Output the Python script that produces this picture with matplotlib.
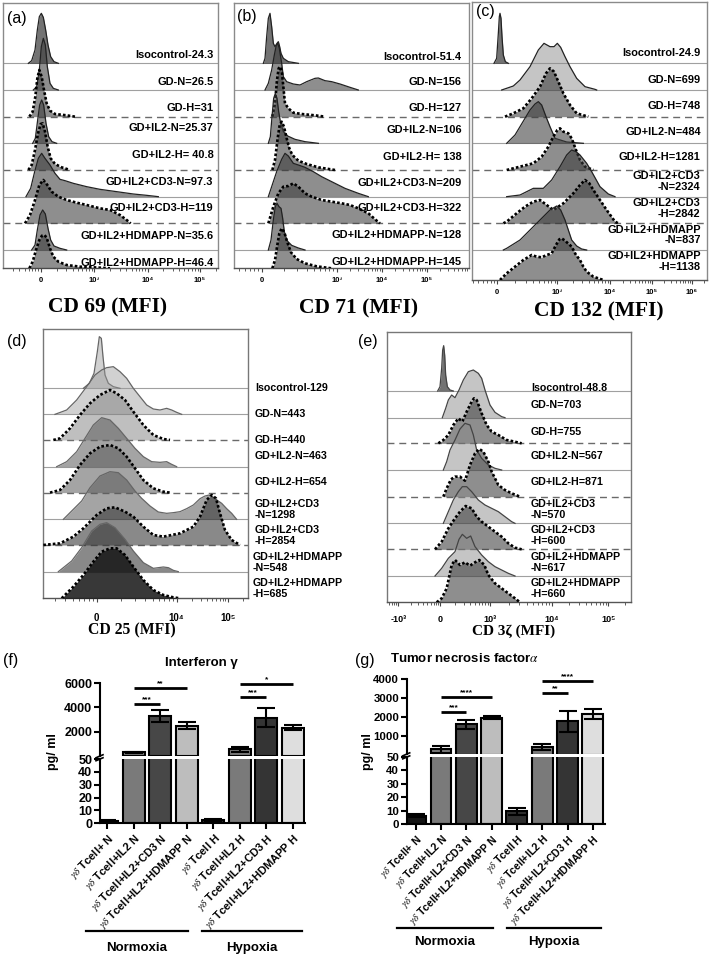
import matplotlib
matplotlib.use('Agg')
import matplotlib.pyplot as plt
from matplotlib.lines import Line2D
import numpy as np

plt.rcParams['font.family'] = ['Liberation Sans', 'DejaVu Sans']
plt.rcParams['mathtext.fontset'] = 'stix'

W, H = 709, 958
fig = plt.figure(figsize=(W / 100, H / 100), dpi=100)

# ======================= DATA =======================
# Flow-cytometry histograms: (channel, count) points
cd69_labels = ['Isocontrol-24.3', 'GD-N=26.5', 'GD-H=31', 'GD+IL2-N=25.37', 'GD+IL2-H= 40.8',
               'GD+IL2+CD3-N=97.3', 'GD+IL2+CD3-H=119', 'GD+IL2+HDMAPP-N=35.6', 'GD+IL2+HDMAPP-H=46.4']
cd69_hist = [
    [(85, 0), (95, 8), (105, 40), (112, 100), (118, 140), (124, 150), (130, 138), (137, 100), (144, 55), (152, 20), (162, 5), (175, 0)],
    [(100, 0), (110, 10), (118, 60), (124, 130), (130, 155), (136, 135), (142, 70), (150, 20), (160, 5), (175, 0)],
    [(88, 0), (98, 15), (106, 60), (112, 115), (118, 140), (125, 120), (132, 80), (140, 40), (150, 18), (165, 8), (200, 4), (225, 0)],
    [(98, 0), (106, 15), (113, 70), (119, 115), (125, 130), (131, 115), (138, 60), (146, 20), (156, 5), (170, 0)],
    [(85, 0), (95, 15), (105, 60), (114, 110), (122, 138), (128, 140), (135, 115), (143, 70), (152, 35), (165, 18), (185, 8), (210, 0)],
    [(78, 0), (92, 25), (104, 75), (115, 115), (125, 130), (135, 115), (150, 95), (165, 70), (180, 52), (195, 48), (220, 40), (260, 30), (300, 22), (350, 15), (400, 8), (440, 4), (475, 0)],
    [(75, 0), (90, 25), (105, 70), (118, 115), (130, 130), (142, 115), (155, 95), (175, 80), (200, 70), (230, 62), (260, 55), (300, 45), (330, 40), (360, 25), (380, 10), (392, 0)],
    [(95, 0), (105, 15), (112, 60), (120, 105), (128, 120), (136, 108), (144, 65), (152, 30), (162, 12), (180, 5), (200, 0)],
    [(88, 0), (98, 20), (108, 55), (118, 85), (126, 98), (133, 100), (140, 92), (150, 60), (160, 35), (175, 20), (200, 10), (240, 5), (300, 2), (330, 0)],
]

cd71_labels = ['Isocontrol-51.4', 'GD-N=156', 'GD-H=127', 'GD+IL2-N=106', 'GD+IL2-H= 138',
               'GD+IL2+CD3-N=209', 'GD+IL2+CD3-H=322', 'GD+IL2+HDMAPP-N=128', 'GD+IL2+HDMAPP-H=145']
cd71_hist = [
    [(85, 0), (90, 15), (95, 80), (100, 135), (105, 150), (110, 110), (115, 60), (120, 50), (126, 60), (130, 65), (134, 50), (138, 30), (145, 15), (160, 5), (190, 0)],
    [(90, 0), (100, 20), (110, 60), (118, 105), (124, 135), (128, 140), (133, 125), (140, 80), (145, 40), (155, 25), (175, 18), (195, 15), (215, 25), (240, 35), (250, 36), (270, 28), (290, 25), (315, 18), (345, 8), (370, 0)],
    [(112, 0), (120, 40), (126, 110), (131, 145), (136, 150), (141, 130), (146, 80), (150, 40), (160, 25), (175, 12), (200, 8), (240, 4), (270, 0)],
    [(100, 0), (106, 20), (111, 80), (116, 135), (121, 150), (126, 135), (131, 95), (137, 60), (145, 35), (158, 22), (180, 12), (210, 5), (250, 0)],
    [(112, 0), (120, 30), (128, 95), (134, 135), (140, 145), (147, 130), (155, 95), (163, 65), (172, 45), (190, 28), (215, 18), (250, 8), (300, 0)],
    [(100, 0), (110, 30), (125, 75), (140, 112), (150, 130), (160, 122), (175, 100), (190, 95), (210, 88), (235, 75), (260, 60), (300, 40), (330, 25), (370, 10), (400, 0)],
    [(100, 0), (115, 50), (130, 90), (145, 110), (160, 112), (175, 120), (190, 110), (210, 90), (230, 80), (260, 70), (290, 65), (320, 60), (345, 55), (370, 45), (400, 30), (425, 8), (435, 0)],
    [(100, 0), (108, 30), (115, 90), (121, 130), (126, 140), (132, 130), (138, 125), (143, 95), (148, 55), (156, 28), (170, 14), (190, 6), (210, 0)],
    [(112, 0), (120, 25), (127, 70), (133, 105), (140, 120), (148, 108), (157, 78), (168, 48), (185, 28), (210, 15), (245, 6), (290, 0)],
]

cd132_labels = ['Isocontrol-24.9', 'GD-N=699', 'GD-H=748', 'GD+IL2-N=484', 'GD+IL2-H=1281',
                'GD+IL2+CD3\n-N=2324', 'GD+IL2+CD3\n-H=2842', 'GD+IL2+HDMAPP\n-N=837', 'GD+IL2+HDMAPP\n-H=1138']
cd132_hist = [
    [(72, 0), (80, 15), (85, 90), (88, 140), (90, 150), (93, 135), (96, 80), (100, 25), (106, 5), (115, 0)],
    [(95, 0), (130, 12), (150, 30), (180, 70), (205, 120), (222, 140), (240, 130), (252, 130), (262, 140), (272, 128), (285, 100), (300, 70), (320, 35), (345, 10), (375, 2), (380, 0)],
    [(105, 0), (130, 10), (160, 25), (185, 55), (210, 90), (228, 130), (240, 145), (252, 135), (265, 105), (280, 70), (300, 35), (320, 10), (355, 0)],
    [(110, 0), (120, 10), (135, 25), (150, 50), (165, 75), (180, 100), (195, 118), (205, 125), (215, 115), (228, 80), (240, 50), (255, 15), (290, 4), (340, 0)],
    [(110, 0), (150, 10), (190, 20), (215, 40), (235, 70), (250, 100), (262, 120), (270, 125), (280, 115), (295, 110), (305, 95), (318, 60), (330, 30), (345, 10), (370, 0)],
    [(110, 0), (150, 5), (190, 25), (220, 25), (245, 50), (270, 90), (290, 125), (305, 140), (318, 135), (330, 125), (350, 100), (365, 75), (390, 30), (415, 8), (435, 0)],
    [(100, 0), (110, 5), (140, 30), (165, 50), (190, 65), (210, 70), (230, 55), (250, 40), (280, 60), (310, 90), (330, 115), (345, 130), (358, 120), (370, 100), (390, 70), (410, 40), (435, 5), (445, 0)],
    [(100, 0), (110, 5), (150, 30), (170, 50), (190, 70), (215, 95), (240, 120), (260, 132), (272, 120), (285, 90), (295, 60), (305, 30), (320, 12), (335, 3), (350, 0)],
    [(90, 0), (110, 20), (135, 40), (160, 60), (185, 75), (200, 70), (215, 68), (230, 75), (245, 80), (258, 105), (268, 122), (275, 125), (285, 118), (305, 100), (318, 75), (330, 60), (340, 40), (350, 25), (370, 10), (400, 0)],
]

cd25_labels = ['Isocontrol-129', 'GD-N=443', 'GD-H=440', 'GD+IL2-N=463', 'GD+IL2-H=654',
               'GD+IL2+CD3\n-N=1298', 'GD+IL2+CD3\n-H=2854', 'GD+IL2+HDMAPP\n-N=548', 'GD+IL2+HDMAPP\n-H=685']
cd25_hist = [
    [(250, 0), (268, 15), (282, 45), (292, 110), (298, 155), (304, 150), (309, 95), (315, 40), (325, 15), (340, 5), (360, 0)],
    [(165, 0), (200, 13), (230, 43), (260, 83), (285, 118), (305, 133), (320, 140), (340, 143), (360, 128), (380, 108), (400, 78), (420, 53), (440, 28), (460, 16), (480, 13), (500, 18), (515, 13), (530, 6), (545, 0)],
    [(160, 0), (180, 5), (210, 35), (240, 75), (270, 110), (300, 135), (330, 150), (350, 140), (375, 120), (400, 85), (430, 45), (460, 15), (490, 3), (510, 0)],
    [(170, 0), (200, 15), (230, 45), (255, 85), (280, 125), (305, 147), (330, 140), (355, 115), (380, 85), (405, 55), (430, 30), (455, 15), (480, 13), (500, 15), (515, 7), (530, 0)],
    [(150, 0), (180, 8), (210, 38), (240, 83), (270, 118), (300, 138), (330, 143), (355, 133), (380, 108), (405, 73), (430, 38), (460, 13), (490, 3), (510, 0)],
    [(190, 0), (215, 25), (245, 55), (270, 95), (300, 130), (330, 143), (355, 140), (380, 118), (405, 85), (425, 63), (450, 40), (475, 22), (500, 18), (520, 20), (540, 23), (560, 32), (580, 43), (600, 62), (615, 70), (628, 73), (645, 62), (665, 48), (680, 32), (695, 18), (710, 0)],
    [(130, 0), (180, 5), (220, 25), (250, 50), (290, 90), (320, 110), (345, 113), (375, 100), (400, 85), (430, 55), (460, 30), (490, 25), (540, 35), (580, 55), (600, 85), (620, 135), (635, 150), (648, 140), (660, 95), (675, 45), (695, 15), (720, 0)],
    [(175, 0), (215, 32), (245, 72), (275, 122), (300, 142), (320, 147), (345, 132), (375, 97), (400, 62), (430, 27), (460, 10), (490, 14), (505, 12), (520, 4), (535, 0)],
    [(185, 0), (220, 35), (250, 70), (280, 110), (305, 140), (330, 150), (350, 150), (375, 130), (400, 95), (430, 55), (460, 25), (490, 10), (520, 3), (540, 0)],
]

cd3z_labels = ['Isocontrol-48.8', 'GD-N=703', 'GD-H=755', 'GD+IL2-N=567', 'GD+IL2-H=871',
               'GD+IL2+CD3\n-N=570', 'GD+IL2+CD3\n-H=600', 'GD+IL2+HDMAPP\n-N=617', 'GD+IL2+HDMAPP\n-H=660']
cd3z_hist = [
    [(248, 0), (255, 13), (260, 68), (263, 123), (266, 136), (269, 108), (272, 48), (277, 13), (285, 3), (295, 0)],
    [(262, 0), (272, 28), (280, 53), (290, 68), (300, 60), (312, 83), (325, 113), (340, 138), (355, 143), (370, 133), (380, 118), (390, 83), (405, 38), (420, 16), (440, 3), (450, 0)],
    [(250, 0), (265, 10), (280, 25), (295, 55), (310, 75), (322, 65), (335, 95), (350, 125), (357, 135), (365, 130), (380, 90), (395, 55), (410, 35), (430, 25), (455, 10), (470, 7), (500, 0)],
    [(265, 0), (275, 25), (285, 60), (300, 90), (315, 123), (330, 140), (345, 135), (355, 105), (365, 60), (380, 35), (400, 15), (420, 5), (440, 0)],
    [(265, 0), (275, 25), (288, 52), (300, 60), (315, 60), (330, 48), (345, 95), (360, 130), (373, 143), (385, 135), (400, 105), (410, 75), (430, 35), (450, 20), (470, 10), (495, 0)],
    [(265, 0), (280, 35), (295, 70), (310, 95), (322, 110), (335, 110), (350, 95), (370, 70), (390, 55), (410, 45), (430, 35), (450, 20), (470, 5), (480, 0)],
    [(240, 0), (260, 23), (280, 63), (300, 93), (315, 113), (332, 130), (350, 123), (365, 98), (380, 83), (400, 68), (420, 53), (440, 38), (460, 18), (480, 5), (500, 0)],
    [(240, 0), (260, 23), (280, 53), (300, 73), (312, 110), (322, 125), (335, 113), (347, 120), (360, 88), (380, 63), (400, 43), (420, 28), (440, 18), (460, 8), (480, 0)],
    [(245, 0), (260, 12), (275, 42), (290, 112), (300, 127), (315, 112), (330, 120), (345, 110), (360, 120), (373, 127), (388, 112), (400, 82), (420, 57), (440, 42), (460, 27), (480, 12), (495, 0)],
]

# x-axis tick labels of the flow panels
cd69_ticks = ['0', '10³', '10⁴', '10⁵']
cd71_ticks = ['0', '10³', '10⁴', '10⁵']
cd132_ticks = ['0', '10³', '10⁴', '10⁵', '10⁶']
cd25_ticks = ['0', '10⁴', '10⁵']
cd3z_ticks = ['-10³', '0', '10³', '10⁴', '10⁵']

# Cytokine bar charts
bar_labels = [r'$\gamma\delta$ Tcell+ N', r'$\gamma\delta$ Tcell+IL2 N', r'$\gamma\delta$ Tcell+IL2+CD3 N',
              r'$\gamma\delta$ Tcell+IL2+HDMAPP N', r'$\gamma\delta$ Tcell H', r'$\gamma\delta$ Tcell+IL2 H',
              r'$\gamma\delta$ Tcell+IL2+CD3 H', r'$\gamma\delta$ Tcell+IL2+HDMAPP H']
ifn_values = [2.1, 300, 3290, 2490, 2.5, 550, 3150, 2330]
ifn_err = [0.4, 15, 500, 270, 0.5, 200, 800, 220]
ifn_sig = [(1, 2, '***', 4250), (1, 3, '**', 5560), (5, 6, '***', 4880), (5, 7, '*', 5890)]
tnf_values = [6.3, 300, 1620, 1970, 9.6, 410, 1790, 2150]
tnf_err = [1.0, 180, 250, 80, 2.8, 160, 560, 270]
tnf_sig = [(1, 2, '***', 2250), (1, 3, '****', 3050), (5, 6, '**', 3280), (5, 7, '****', 3910)]
groups = ['Normoxia', 'Hypoxia']

# ======================= STYLE / LAYOUT =======================
DARK = ('#1e1e1e', 0.62)
MED = ('#3c3c3c', 0.58)
LIGHT = ('#8c8c8c', 0.5)
L1 = ('#9a9a9a', 0.45)
L2 = ('#808080', 0.5)
M1 = ('#5a5a5a', 0.55)
M2 = ('#3a3a3a', 0.6)
DD = ('#151515', 0.85)
KINDS = ['s', 's', 'd', 's', 'd', 's', 'd', 's', 'd']
BASE_STYLES = ['-', '-', '--', '-', '--', '-', '--', '-']


def log_minor(major, lo, hi):
    out = []
    pts = list(major)
    step = pts[-1] - pts[-2]
    pts = [pts[0] - (pts[1] - pts[0])] + pts + [pts[-1] + step]
    for a, b in zip(pts[:-1], pts[1:]):
        for k in range(2, 10):
            p = a + np.log10(k) * (b - a)
            if lo < p < hi:
                out.append(p)
    return out


def flow_panel(origin, box, hist, fills, baselines, labels, lab_x, lab_y, lab_ha, lab_fs,
               tick_pos, tick_lab, tick_fs, tick_pad, xlabel, xlab_xy, xlab_fs, outline, boxcol):
    ox, oy = origin
    x0, y0, x1, y1 = box
    left, right = ox + x0 / 3, ox + x1 / 3
    top, bottom = oy + y0 / 3, oy + y1 / 3
    ax = fig.add_axes([left / W, 1 - bottom / H, (right - left) / W, (bottom - top) / H])
    ax.set_xlim(x0, x1)
    ax.set_ylim(y1, y0)
    for b, st in zip(baselines[:-1], BASE_STYLES):
        if st == '-':
            ax.plot([x0, x1], [b, b], color='#a0a0a0', lw=0.8, zorder=1)
        else:
            ax.plot([x0, x1], [b, b], color='#6a6a6a', lw=1.0, dashes=(5, 3.5), zorder=1)
    for i, pts in enumerate(hist):
        xs = [p[0] for p in pts]
        ys = [baselines[i] - p[1] for p in pts]
        col, a = fills[i]
        ax.fill_between(xs, ys, baselines[i], color=col, alpha=a, lw=0, zorder=2 + 2 * i)
        if KINDS[i] == 'd':
            ax.plot(xs, ys, color='black', lw=1.9, dashes=(1.0, 0.8), zorder=3 + 2 * i)
        else:
            ax.plot(xs, ys, color=outline, lw=0.9, zorder=3 + 2 * i)
    for txt, ly in zip(labels, lab_y):
        lx = lab_x if not (lab_ha == 'left' and 'HDMAPP\n' in txt and x1 < lab_x) else lab_x - 8
        ax.text(lx, ly, txt, ha=lab_ha, va='center', multialignment=lab_ha, fontsize=lab_fs,
                fontweight='bold', linespacing=1.05, clip_on=False, zorder=30)
    ax.set_yticks([])
    ax.set_xticks(tick_pos)
    ax.set_xticklabels(tick_lab, fontsize=tick_fs, fontweight='bold')
    ax.set_xticks(log_minor(tick_pos, x0, x1), minor=True)
    ax.tick_params(axis='x', which='major', direction='out', length=3, width=0.8, color='#444', pad=tick_pad)
    ax.tick_params(axis='x', which='minor', direction='out', length=1.8, width=0.6, color='#444')
    for s in ax.spines.values():
        s.set_color(boxcol)
        s.set_linewidth(1.0)
    ax.spines['bottom'].set_color('#555')
    ax.set_xlabel(xlabel, fontsize=xlab_fs, fontweight='bold', family=['Liberation Serif', 'DejaVu Serif'])
    ax.xaxis.set_label_coords((xlab_xy[0] - x0) / (x1 - x0), (y1 - xlab_xy[1]) / (y1 - y0))
    ax.xaxis.label.set_va('center')
    return ax


flow_panel((0, 0), (10, 10, 655, 805), cd69_hist, [DARK] + [MED] * 8,
           [190, 270, 350, 430, 510, 590, 670, 750, 805], cd69_labels, 640,
           [165, 245, 325, 385, 465, 545, 623, 707, 790], 'right', 7.9,
           [122, 283, 443, 600], cd69_ticks, 5.5, 3.5, 'CD 69 (MFI)', (322, 921), 15.5, '#222', '#8a8a8a')

flow_panel((235, 0), (-2, 10, 702, 805), cd71_hist, [DARK] + [MED] * 8,
           [190, 270, 350, 430, 510, 590, 670, 750, 805], cd71_labels, 680,
           [170, 245, 325, 390, 472, 550, 625, 705, 785], 'right', 7.9,
           [80, 305, 440, 575], cd71_ticks, 5.5, 3.5, 'CD 71 (MFI)', (370, 925), 15.5, '#222', '#8a8a8a')

flow_panel((470, 0), (5, 5, 712, 840), cd132_hist, [DARK, LIGHT] + [MED] * 7,
           [190, 270, 350, 430, 510, 590, 670, 750, 840], cd132_labels, 692,
           [160, 240, 318, 395, 470, 545, 625, 705, 785], 'right', 7.9,
           [80, 262, 420, 545, 665], cd132_ticks, 5.5, 3.5, 'CD 132 (MFI)', (385, 935), 15.5, '#222', '#8a8a8a')

flow_panel((0, 325), (128, 12, 745, 820), cd25_hist, [L1, L1, L2, M1, M1, M1, M2, M2, DD],
           [190, 268, 345, 425, 503, 583, 660, 740, 820], cd25_labels, 765,
           [190, 268, 345, 393, 470, 553, 632, 713, 790], 'left', 7.7,
           [290, 530, 683], cd25_ticks, 7, 7.5, 'CD 25 (MFI)', (395, 915), 11.3, '#666', '#777')

flow_panel((355, 325), (95, 20, 828, 832), cd3z_hist, [DARK, LIGHT, MED, LIGHT, MED, LIGHT, MED, LIGHT, MED],
           [198, 278, 355, 435, 515, 595, 673, 753, 832], cd3z_labels, 528,
           [190, 240, 320, 393, 472, 554, 632, 712, 790], 'left', 7.7,
           [130, 255, 405, 590, 760], cd3z_ticks, 6.5, 6, 'CD 3ζ (MFI)', (475, 920), 11, '#444', '#777')

# panel letters
for t, x, y in [('(a)', 6.5, 18), ('(b)', 236.5, 16.5), ('(c)', 476, 11.5), ('(d)', 6.5, 341.5),
                ('(e)', 358, 341.5), ('(f)', 3.5, 660), ('(g)', 355, 661)]:
    fig.text(x / W, 1 - y / H, t, fontsize=11.5, ha='left', va='center')

# ======================= BAR CHARTS =======================
BAR_COLORS = ['#141414', '#7a7a7a', '#474747', '#bdbdbd', '#2e2e2e', '#7a7a7a', '#343434', '#dedede']


def fig_line(xa, xb, ya, yb, lw=1.5, color='black'):
    fig.add_artist(Line2D([xa / W, xb / W], [1 - ya / H, 1 - yb / H], color=color, lw=lw))


def bar_panel(xl, xr, c0, dx, up_top, up_bot, lo_top, lo_bot, ymax, up_ticks, values, errs, sig,
              title, title_xy, ylab_xy, tick_fs, xt_fs, group_lines, group_y, text_y):
    xlim = ((xl - c0) / dx, (xr - c0) / dx)
    x = np.arange(len(values))
    axu = fig.add_axes([xl / W, 1 - up_bot / H, (xr - xl) / W, (up_bot - up_top) / H])
    axl = fig.add_axes([xl / W, 1 - lo_bot / H, (xr - xl) / W, (lo_bot - lo_top) / H])
    big = [i for i, v in enumerate(values) if v > 50]
    # upper (broken) segment: only the bars that reach it
    axu.bar([x[i] for i in big], [values[i] for i in big], width=0.83,
            color=[BAR_COLORS[i] for i in big], edgecolor='black', linewidth=1.5, zorder=2)
    axu.errorbar([x[i] for i in big], [values[i] for i in big], yerr=[errs[i] for i in big],
                 fmt='none', ecolor='black', elinewidth=1.5, capsize=6.5, capthick=1.5, zorder=3)
    # lower segment: all bars
    axl.bar(x, values, width=0.83, color=BAR_COLORS, edgecolor='black', linewidth=1.5, zorder=2)
    small = [i for i, v in enumerate(values) if v <= 50]
    axl.errorbar([x[i] for i in small], [values[i] for i in small], yerr=[errs[i] for i in small],
                 fmt='none', ecolor='black', elinewidth=1.5, capsize=6.5, capthick=1.5, zorder=3)
    for ax, lim in [(axu, (50, ymax)), (axl, (0, 50))]:
        ax.set_xlim(*xlim)
        ax.set_ylim(*lim)
        ax.spines['right'].set_visible(False)
        ax.spines['top'].set_visible(False)
        ax.spines['left'].set_linewidth(1.5)
        ax.spines['bottom'].set_linewidth(1.5)
        ax.tick_params(axis='y', direction='out', length=4, width=1.5, labelsize=tick_fs, pad=1.5)
    axu.spines['bottom'].set_visible(False)
    axu.set_xticks([])
    axu.set_yticks(up_ticks)
    axu.set_yticklabels([str(v) for v in up_ticks], fontweight='bold', fontsize=tick_fs)
    axl.set_yticks([0, 10, 20, 30, 40, 50])
    axl.set_yticklabels(['0', '10', '20', '30', '40', '50'], fontweight='bold', fontsize=tick_fs)
    axl.set_xticks(x)
    axl.set_xticklabels(bar_labels, fontsize=xt_fs, fontweight='bold', rotation=45, ha='right',
                        rotation_mode='anchor')
    axl.tick_params(axis='x', direction='out', length=4, width=1.5, pad=2)
    for i, j, st, yv in sig:
        axu.plot([i, j], [yv, yv], color='black', lw=2, zorder=4, solid_capstyle='butt')
        axu.text((i + j) / 2, yv + ymax * 0.012, st, ha='center', va='bottom', fontsize=6,
                 fontweight='bold')
    # axis break marks
    yb = (up_bot + lo_top) / 2
    fig_line(xl - 4, xl + 3, yb + 0.5, yb - 2.5, lw=1.2)
    fig_line(xl - 4, xl + 3, yb + 3.5, yb + 0.5, lw=1.2)
    fig.text(title_xy[0] / W, 1 - title_xy[1] / H, title, ha='center', va='center', fontsize=9.5,
             fontweight='bold')
    fig.text(ylab_xy[0] / W, 1 - ylab_xy[1] / H, 'pg/ ml', ha='center', va='center', rotation=90,
             fontsize=9, fontweight='bold')
    for (a, b), g in zip(group_lines, groups):
        fig_line(a, b, group_y, group_y, lw=1.6)
        fig.text((a + b) / 2 / W, 1 - text_y / H, g, ha='center', va='center', fontsize=9.5,
                 fontweight='bold')


bar_panel(100, 305, 107.3, 26.5, 683, 755.5, 759, 823.3, 6000, [2000, 4000, 6000],
          ifn_values, ifn_err, ifn_sig, 'Interferon γ', (201, 663), (53, 752), 9, 8,
          [(86, 188), (202, 302)], 931, 948)

bar_panel(406.7, 605, 415.7, 25.3, 679.3, 754, 756.7, 824.3, 4000, [1000, 2000, 3000, 4000],
          tnf_values, tnf_err, tnf_sig, r'Tumor necrosis factor$\alpha$', (465, 659), (368, 752), 8.2, 7.6,
          [(397, 493), (507, 601)], 928, 942)

fig.savefig('out.png', dpi=100)
